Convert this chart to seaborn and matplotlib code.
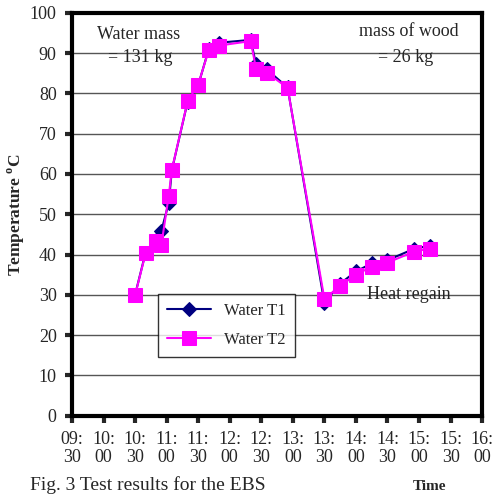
import numpy as np
import pandas as pd
import seaborn as sns
import matplotlib
matplotlib.use("Agg")
import matplotlib.pyplot as plt

# time of reading and water temperatures
times = ["10:30", "10:40", "10:50", "10:55", "11:02", "11:05", "11:20", "11:30",
         "11:40", "11:50", "12:20", "12:25", "12:35", "12:55", "13:30", "13:45",
         "14:00", "14:15", "14:30", "14:55", "15:10"]
water_t1 = [30.0, 40.5, 43.5, 45.9, 52.8, 61.0, 78.0, 82.0, 91.0, 92.6, 93.3,
            87.2, 86.0, 81.5, 28.0, 32.8, 35.8, 37.8, 38.6, 41.4, 42.2]
water_t2 = [29.9, 40.3, 43.4, 42.4, 54.6, 61.1, 78.1, 82.2, 90.7, 91.9, 93.0,
            86.1, 85.2, 81.4, 29.0, 32.2, 35.0, 37.0, 38.0, 40.7, 41.5]
tick_times = ["09:30", "10:00", "10:30", "11:00", "11:30", "12:00", "12:30",
              "13:00", "13:30", "14:00", "14:30", "15:00", "15:30", "16:00"]


def minutes(t):
    h, m = t.split(":")
    return (int(h) - 9) * 60 + int(m) - 30


df = pd.DataFrame({"t": [minutes(t) for t in times], "T1": water_t1, "T2": water_t2})

sns.set_style("ticks")
plt.rcParams["font.family"] = ["Liberation Serif", "DejaVu Serif"]
plt.rcParams["mathtext.fontset"] = "custom"
plt.rcParams["mathtext.rm"] = "Liberation Serif"
plt.rcParams["mathtext.bf"] = "Liberation Serif:bold"

fig = plt.figure(figsize=(4.93, 4.96), dpi=100)
ax = fig.add_axes([0.146, 0.162, 0.832, 0.812])

sns.lineplot(data=df, x="t", y="T1", ax=ax, color="#000080", marker="D",
             markersize=7, markeredgecolor="#000080", lw=1.5, sort=False,
             label="Water T1")
sns.lineplot(data=df, x="t", y="T2", ax=ax, color="#FF00FF", marker="s",
             markersize=10.5, markeredgecolor="#FF00FF", lw=1.5, sort=False,
             label="Water T2")

ax.set_xlim(0, 390)
ax.set_ylim(0, 100)
ax.set_xticks([minutes(t) for t in tick_times])
ax.set_xticklabels([t.replace(":", ":\n") for t in tick_times])
ax.set_yticks(np.arange(0, 101, 10))
ax.tick_params(axis="both", labelsize=13, width=3, length=5, direction="out")
ax.tick_params(axis="y", pad=6)
ax.tick_params(axis="x", pad=6)
for lab in ax.get_xticklabels():
    lab.set_linespacing(1.1)
ax.yaxis.grid(True, color="#555555", lw=1)
ax.set_axisbelow(True)
for s in ax.spines.values():
    s.set_linewidth(3)
    s.set_color("black")

ax.set_xlabel("")
ax.set_ylabel(r"Temperature $^{\mathbf{o}}$C", fontsize=12.5, fontweight="bold", labelpad=2)

ax.text(63, 94.6, "Water mass", fontsize=13, ha="center", va="center")
ax.text(65, 89, "= 131 kg", fontsize=13, ha="center", va="center")
ax.text(320, 95.5, "mass of wood", fontsize=13, ha="center", va="center")
ax.text(317, 89, "= 26 kg", fontsize=13, ha="center", va="center")
ax.text(320, 30, "Heat regain", fontsize=13, ha="center", va="center")

leg = ax.legend(loc="lower left", bbox_to_anchor=(0.19, 0.125), fontsize=12,
                frameon=True, fancybox=False, edgecolor="black", handlelength=2.6,
                borderpad=0.55, labelspacing=0.75)
leg.get_frame().set_linewidth(1)

fig.text(0.06, 0.012, "Fig. 3 Test results for the EBS", fontsize=14, ha="left", va="baseline")
fig.text(0.872, 0.02, "Time", fontsize=11, fontweight="bold", ha="center", va="center")

fig.savefig("out.png", dpi=100)
